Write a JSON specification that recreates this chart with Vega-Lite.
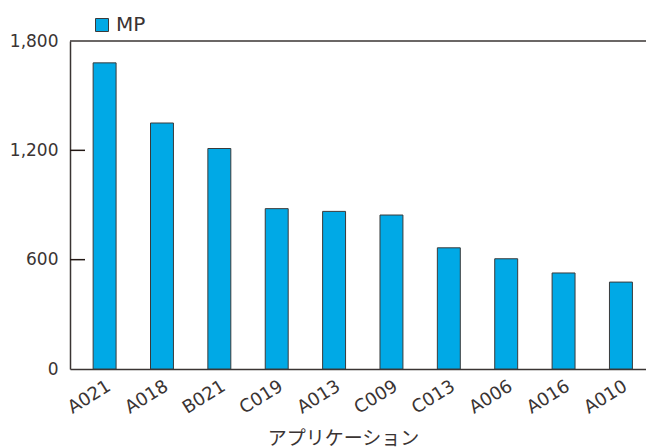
{
  "$schema": "https://vega.github.io/schema/vega-lite/v6.json",
  "width": 576,
  "height": 328,
  "autosize": "none",
  "padding": {"left": 70, "top": 41, "right": 0, "bottom": 79},
  "background": "white",
  "config": {"view": {"stroke": null}, "font": "DejaVu Sans"},
  "data": {
    "values": [
      {"app": "A021", "mp": 1680, "series": "MP"},
      {"app": "A018", "mp": 1350, "series": "MP"},
      {"app": "B021", "mp": 1210, "series": "MP"},
      {"app": "C019", "mp": 880, "series": "MP"},
      {"app": "A013", "mp": 865, "series": "MP"},
      {"app": "C009", "mp": 845, "series": "MP"},
      {"app": "C013", "mp": 665, "series": "MP"},
      {"app": "A006", "mp": 605, "series": "MP"},
      {"app": "A016", "mp": 527, "series": "MP"},
      {"app": "A010", "mp": 477, "series": "MP"}
    ]
  },
  "resolve": {"scale": {"x": "independent"}},
  "layer": [
    {
      "mark": {"type": "bar", "stroke": "#3a3a3a", "strokeWidth": 1},
      "encoding": {
        "x": {
          "field": "app",
          "type": "nominal",
          "sort": null,
          "scale": {"paddingInner": 0.6, "paddingOuter": 0.32, "align": 0.63},
          "axis": {
            "title": "アプリケーション",
            "titleFont": "Noto Sans CJK JP",
            "titleFontSize": 19,
            "titleFontWeight": "normal",
            "titleColor": "#3a3433",
            "titleX": 273,
            "titleY": 69,
            "titleBaseline": "middle",
            "titleAnchor": "middle",
            "labelAngle": -32,
            "labelFontSize": 18,
            "labelColor": "#3a3433",
            "labelPadding": 8,
            "ticks": false,
            "domainColor": "#3a3433",
            "domainWidth": 1.5
          }
        },
        "y": {
          "field": "mp",
          "type": "quantitative",
          "scale": {"domain": [0, 1800], "nice": false},
          "axis": {
            "title": null,
            "values": [0, 600, 1200, 1800],
            "format": ",.0f",
            "grid": false,
            "ticks": false,
            "labelPadding": 12,
            "labelFontSize": 17,
            "labelColor": "#3a3433",
            "domainColor": "#3a3433",
            "domainWidth": 1.5
          }
        },
        "color": {
          "field": "series",
          "type": "nominal",
          "scale": {"range": ["#00a9e6"]},
          "legend": {
            "orient": "none",
            "legendX": 22,
            "legendY": -26,
            "title": null,
            "symbolType": "square",
            "symbolSize": 169,
            "symbolStrokeColor": "#3a3a3a",
            "symbolStrokeWidth": 1,
            "labelFontSize": 20,
            "labelColor": "#3a3433",
            "labelOffset": 4
          }
        }
      }
    },
    {
      "data": {"values": [{"top": 1800}]},
      "mark": {"type": "rule", "color": "#3a3433", "strokeWidth": 1.5},
      "encoding": {"y": {"field": "top", "type": "quantitative"}}
    },
    {
      "data": {"values": [{"tick": 600, "from": 0, "to": 15}, {"tick": 1200, "from": 0, "to": 15}]},
      "mark": {"type": "rule", "color": "#231815", "strokeWidth": 1.5},
      "encoding": {
        "y": {"field": "tick", "type": "quantitative"},
        "x": {
          "field": "from",
          "type": "quantitative",
          "scale": {"domain": [0, 576], "nice": false, "zero": true},
          "axis": null
        },
        "x2": {"field": "to"}
      }
    }
  ]
}
